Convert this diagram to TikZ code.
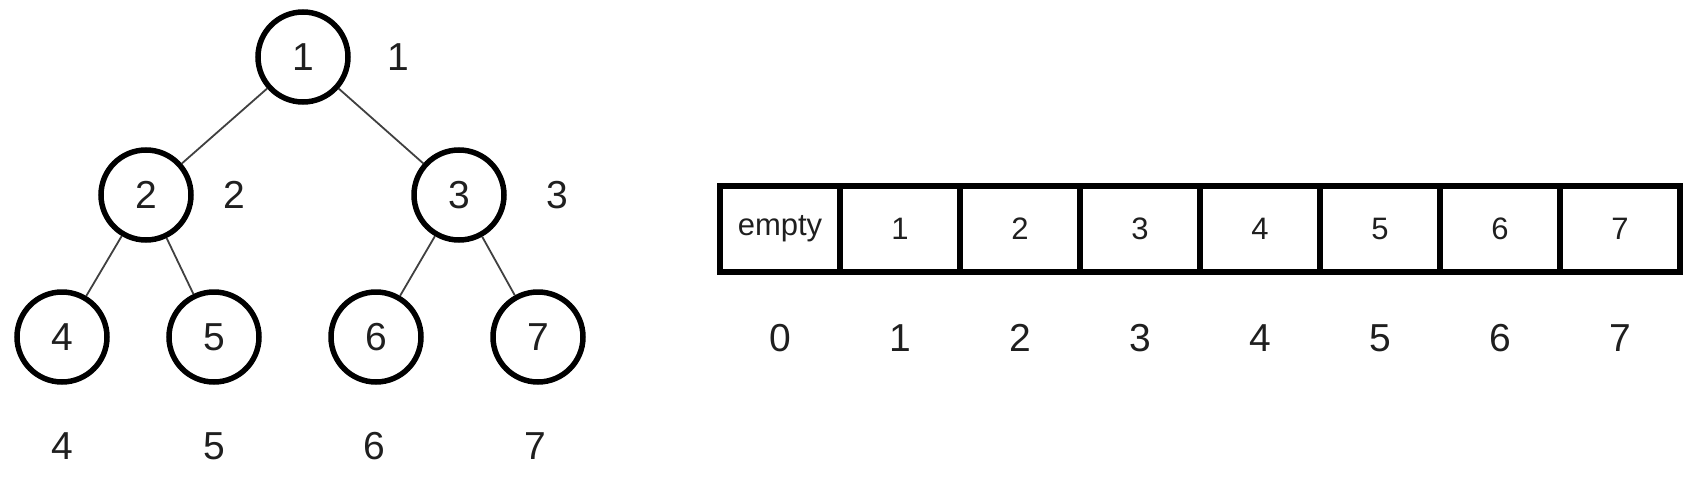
\documentclass[tikz,border=0pt]{standalone}
\usepackage{fontspec}
\setmainfont{Liberation Sans}
\begin{document}
\begin{tikzpicture}[x=1pt,y=-1pt,
  txt/.style={text=black!88, inner sep=0pt},
  big/.style={txt, font=\fontsize{39}{39}\selectfont},
  small/.style={txt, font=\fontsize{31}{31}\selectfont},
  tnode/.style={circle, draw=black, line width=5.5pt, minimum size=90pt, inner sep=0pt, big},
  edge/.style={draw=black!75, line width=1.8pt},
  cell/.style={rectangle, draw=black, line width=5.5pt, minimum width=120pt, minimum height=86pt, inner sep=0pt, small}
]
\useasboundingbox (0,0) rectangle (1698,482);
% tree
\node[tnode] (n1) at (303,57) {1};
\node[tnode] (n2) at (146,195) {2};
\node[tnode] (n3) at (459,195) {3};
\node[tnode] (n4) at (62,337) {4};
\node[tnode] (n5) at (214,337) {5};
\node[tnode] (n6) at (376,337) {6};
\node[tnode] (n7) at (538,337) {7};
\draw[edge] (n1) -- (n2);
\draw[edge] (n1) -- (n3);
\draw[edge] (n2) -- (n4);
\draw[edge] (n2) -- (n5);
\draw[edge] (n3) -- (n6);
\draw[edge] (n3) -- (n7);
% index labels of tree
\node[big] (l1) at (398,57) {1};
\node[big] (l2) at (234,195) {2};
\node[big] (l3) at (557,195) {3};
\node[big] (l4) at (62,446) {4};
\node[big] (l5) at (214,446) {5};
\node[big] (l6) at (374,446) {6};
\node[big] (l7) at (535,446) {7};
% array
\foreach \i/\t in {0/empty,1/1,2/2,3/3,4/4,5/5,6/6,7/7}{
  \node[cell] (c\i) at (780+120*\i,229) {\t};
  \node[big] (i\i) at (780+120*\i,338) {\i};
}
\end{tikzpicture}
\end{document}
